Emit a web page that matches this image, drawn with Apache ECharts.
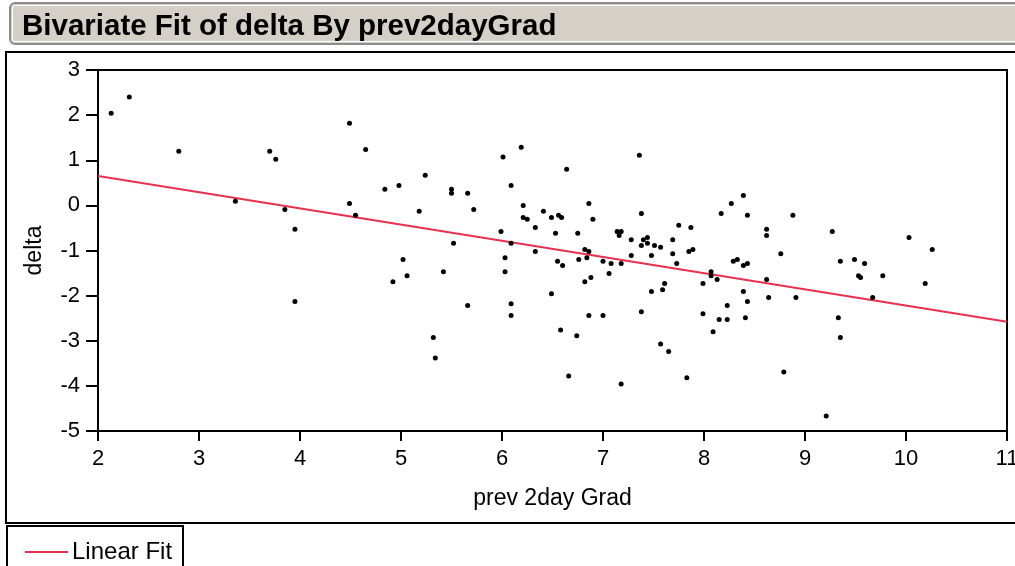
<!DOCTYPE html>
<html>
<head>
<meta charset="utf-8">
<title>Bivariate Fit of delta By prev2dayGrad</title>
<script src="https://cdn.jsdelivr.net/npm/echarts@6/dist/echarts.min.js"></script>
<style>
  html, body { margin: 0; padding: 0; background: #ffffff; }
  #chart { width: 1015px; height: 566px; }
</style>
</head>
<body>
<div id="chart"></div>
<script>
// Observations: prev2dayGrad (x) and delta (y)
const prevGrad = [2.13,2.31,2.80,3.36,3.70,3.76,3.85,3.95,3.95,4.49,4.65,4.84,4.98,5.24,5.50,5.50,5.66,4.49,4.55,5.18,
  5.72,5.52,5.99,6.09,6.01,6.19,6.09,6.21,6.21,6.25,6.33,6.41,6.49,6.53,6.56,6.59,6.64,6.75,6.86,6.90,
  7.14,7.18,7.16,7.28,7.36,7.38,7.40,7.44,7.44,7.38,7.51,7.57,7.69,7.75,7.87,8.17,8.27,8.39,8.43,8.62,
  8.62,8.88,9.27,10.03,10.26,6.33,5.02,5.06,4.92,5.42,6.03,6.03,6.49,5.66,6.09,6.09,5.32,5.34,6.55,6.60,
  6.82,6.86,6.76,6.84,6.82,6.88,7.00,7.08,7.06,7.18,7.28,7.48,7.69,7.73,7.85,7.89,8.07,8.07,8.13,7.99,
  8.29,8.33,8.39,8.43,8.62,8.76,7.48,7.59,7.61,7.38,6.86,7.00,6.58,6.74,6.66,7.18,7.57,7.65,7.83,7.99,
  8.09,8.15,8.23,8.23,8.39,8.43,8.41,8.64,8.79,8.91,9.35,9.49,9.59,9.53,9.55,9.77,9.67,10.19,9.33,9.35,9.21];
const delta = [2.04,2.40,1.20,0.09,1.20,1.02,-0.09,-0.53,-2.13,1.82,1.24,0.36,0.44,0.67,0.36,0.27,0.27,0.04,-0.22,-0.13,
  -0.09,-0.84,-0.58,-0.84,1.07,1.29,0.44,0.00,-0.27,-0.31,-0.49,-0.13,-0.27,-0.62,-0.22,-0.27,0.80,-0.62,0.04,-0.31,
  -0.58,-0.58,-0.67,-0.76,1.11,-0.18,-0.76,-0.71,-0.84,-0.89,-0.89,-0.93,-0.76,-0.44,-0.49,-0.18,0.04,0.22,-0.22,-0.53,
  -0.67,-0.22,-0.58,-0.71,-0.98,-1.02,-1.20,-1.56,-1.69,-1.47,-1.16,-1.47,-1.96,-2.22,-2.18,-2.44,-2.93,-3.38,-1.24,-1.33,
  -0.98,-1.02,-1.20,-1.16,-1.69,-1.60,-1.24,-1.29,-1.51,-1.29,-1.11,-1.11,-1.07,-1.29,-1.02,-0.98,-1.47,-1.56,-1.64,-1.73,
  -1.24,-1.20,-1.33,-1.29,-1.64,-1.07,-1.91,-1.87,-1.73,-2.36,-2.44,-2.44,-2.76,-2.89,-3.78,-3.96,-3.07,-3.24,-3.82,-2.40,
  -2.80,-2.53,-2.53,-2.22,-1.91,-2.13,-2.49,-2.04,-3.69,-2.04,-1.24,-1.20,-1.29,-1.56,-1.60,-1.56,-2.04,-1.73,-2.49,-2.93,-4.67];

// Linear fit, drawn between its two end points
const fitX = [2, 11];
const fitY = [0.65, -2.58];

// Axis ranges
const xRange = [2, 11];
const yRange = [-5, 3];

const FONT = "'Liberation Sans', Arial, sans-serif";

const points = prevGrad.map((x, i) => [x, delta[i]]);
const fitLine = fitX.map((x, i) => [x, fitY[i]]);

const chart = echarts.init(document.getElementById('chart'), null, { renderer: 'canvas' });

chart.setOption({
  animation: false,
  backgroundColor: '#ffffff',
  title: {
    text: 'Bivariate Fit of delta By prev2dayGrad',
    left: 22,
    top: 12,
    padding: 0,
    textStyle: { fontFamily: FONT, fontSize: 29.5, fontWeight: 'bold', color: '#000000' }
  },
  graphic: [
    {
      type: 'rect', z: -10, silent: true,
      shape: { x: 10, y: 3, width: 1020, height: 41, r: 5 },
      style: { fill: '#d4d0c8', stroke: '#8c8c8c', lineWidth: 2 }
    },
    {
      type: 'rect', z: -9, silent: true,
      shape: { x: 12.5, y: 5.5, width: 1015, height: 36, r: 3 },
      style: { fill: 'none', stroke: '#ffffff', lineWidth: 1 }
    },
    {
      type: 'rect', z: 10, silent: true,
      shape: { x: 6, y: 52, width: 1020, height: 471 },
      style: { fill: 'none', stroke: '#000000', lineWidth: 2 }
    },
    {
      type: 'rect', z: 10, silent: true,
      shape: { x: 7, y: 526, width: 176, height: 60 },
      style: { fill: 'none', stroke: '#000000', lineWidth: 2 }
    }
  ],
  legend: {
    data: ['Linear Fit'],
    left: 25,
    top: 540,
    padding: 0,
    icon: 'rect',
    itemWidth: 43,
    itemHeight: 2,
    itemGap: 6,
    textStyle: { fontFamily: FONT, fontSize: 24, color: '#000000', padding: [0, 0, 0, -1] }
  },
  grid: {
    left: 98, right: 8, top: 70, bottom: 135,
    outerBoundsMode: 'none',
    containLabel: false,
    show: true, borderColor: '#000000', borderWidth: 2,
    backgroundColor: 'transparent'
  },
  xAxis: {
    type: 'value',
    min: xRange[0], max: xRange[1], interval: 1,
    name: 'prev 2day Grad',
    nameLocation: 'middle',
    nameGap: 56,
    nameTextStyle: { fontFamily: FONT, fontSize: 23, color: '#000000' },
    axisLine: { show: true, onZero: false, lineStyle: { color: '#000000', width: 2 } },
    axisTick: { show: true, inside: false, length: 10, lineStyle: { color: '#000000', width: 2 } },
    axisLabel: { fontFamily: FONT, fontSize: 22, color: '#000000', margin: 17, showMaxLabel: true, showMinLabel: true },
    splitLine: { show: false }
  },
  yAxis: {
    type: 'value',
    min: yRange[0], max: yRange[1], interval: 1,
    name: 'delta',
    nameLocation: 'middle',
    nameGap: 52,
    nameRotate: 90,
    nameTextStyle: { fontFamily: FONT, fontSize: 23, color: '#000000' },
    axisLine: { show: true, onZero: false, lineStyle: { color: '#000000', width: 2 } },
    axisTick: { show: true, inside: false, length: 12, lineStyle: { color: '#000000', width: 2 } },
    axisLabel: { fontFamily: FONT, fontSize: 22, color: '#000000', margin: 18 },
    splitLine: { show: false }
  },
  series: [
    {
      name: 'Observations',
      type: 'scatter',
      data: points,
      symbol: 'circle',
      symbolSize: 5,
      itemStyle: { color: '#000000', opacity: 1 },
      z: 3
    },
    {
      name: 'Linear Fit',
      type: 'line',
      data: fitLine,
      symbol: 'none',
      lineStyle: { color: '#e8314f', width: 2 },
      itemStyle: { color: '#e8314f' },
      z: 2
    }
  ]
});
</script>
</body>
</html>
